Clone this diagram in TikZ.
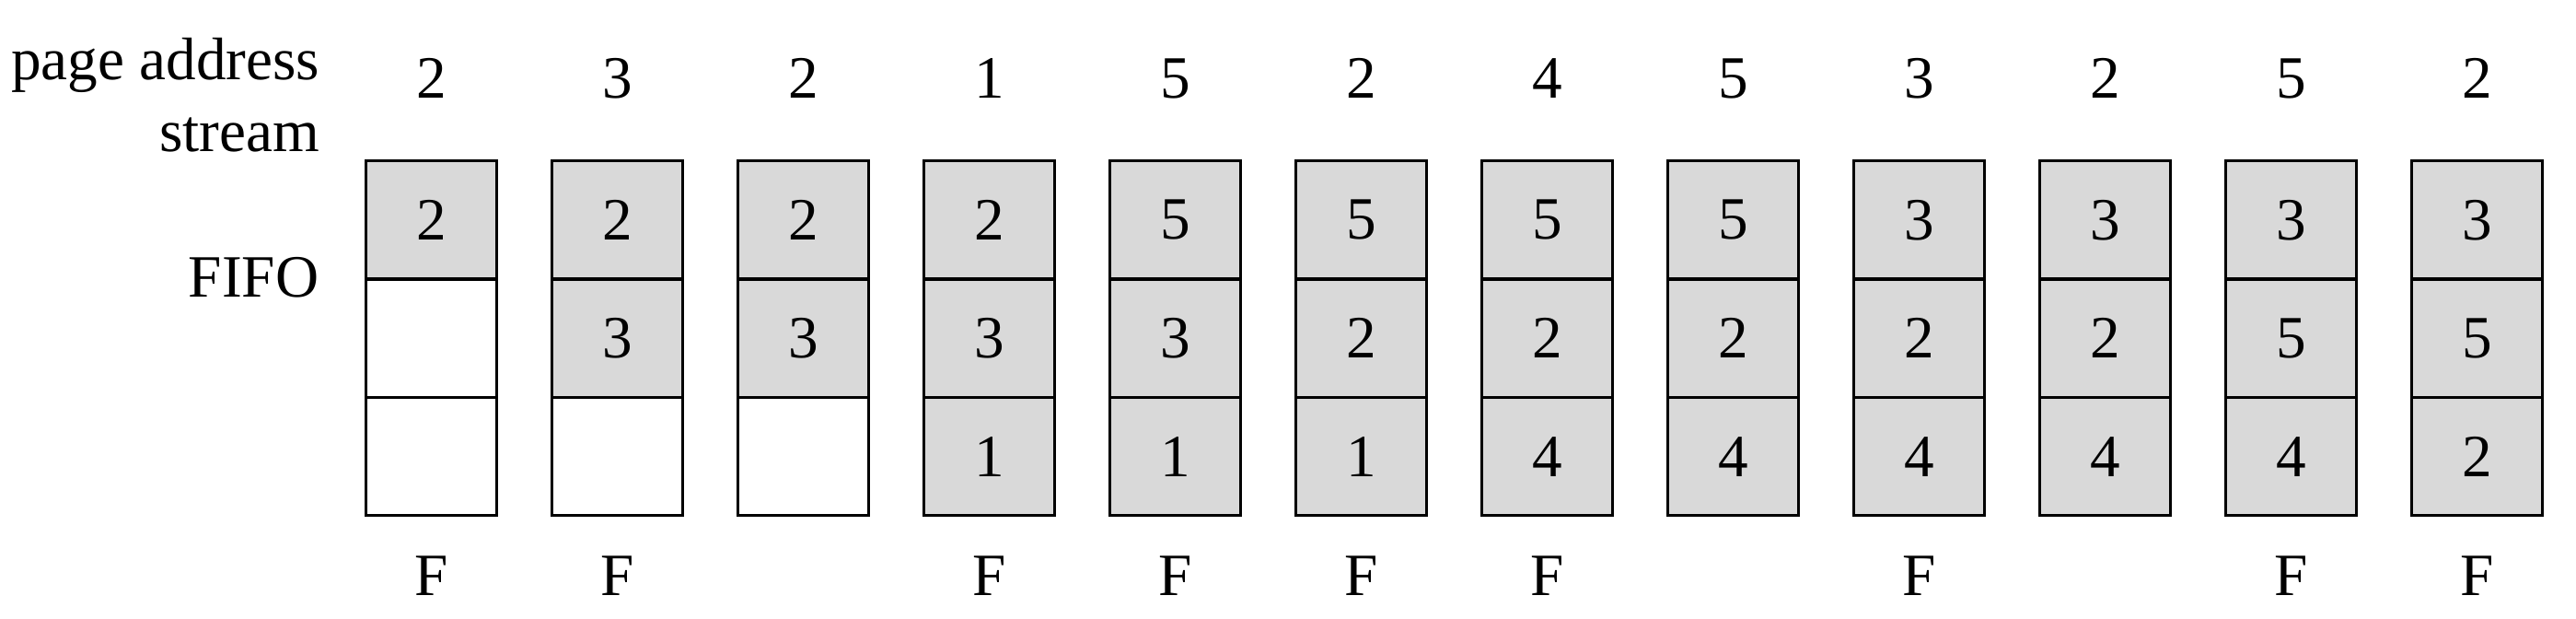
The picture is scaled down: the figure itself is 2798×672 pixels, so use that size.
\documentclass[tikz,border=0pt]{standalone}
\usepackage{fontspec}
\setmainfont{Liberation Serif}
\definecolor{cellgray}{RGB}{217,217,217}
\begin{document}
\begin{tikzpicture}[x=0.25pt,y=-0.25pt,
  every node/.style={font=\fontsize{16.3}{19.5}\selectfont, inner sep=0pt},
  cellbox/.style={draw=black, line width=0.8pt, minimum width=35.5pt, minimum height=32.1pt, outer sep=0pt, anchor=north west},
  fullcell/.style={cellbox, fill=cellgray},
  emptycell/.style={cellbox, fill=white},
  lbl/.style={anchor=base}]
\useasboundingbox (0,0) rectangle (2798,672);
% labels
\node[anchor=base east] (lpa) at (348,87) {page address};
\node[anchor=base east] (lst) at (348,165) {stream};
\node[anchor=base east] (lfifo) at (347,323) {FIFO};
% columns: stream value / cell1 / cell2 / cell3 / fault
\foreach \i/\s/\a/\b/\c/\f in {
  0/2/2/-/-/F, 1/3/2/3/-/F, 2/2/2/3/-/, 3/1/2/3/1/F,
  4/5/5/3/1/F, 5/2/5/2/1/F, 6/4/5/2/4/F, 7/5/5/2/4/,
  8/3/3/2/4/F, 9/2/3/2/4/, 10/5/3/5/4/F, 11/2/3/5/2/F} {
  \pgfmathsetmacro{\xl}{397.6+202*\i}
  \pgfmathsetmacro{\xc}{\xl+71}
  \node[lbl] (s\i) at (\xc,107) {\s};
  \foreach \v [count=\r from 0] in {\a,\b,\c} {
    \pgfmathsetmacro{\yt}{174.6+128.4*\r}
    \if\v -
      \node[emptycell] (c\i-\r) at (\xl,\yt) {};
    \else
      \node[fullcell] (c\i-\r) at (\xl,\yt) {\v};
    \fi
  }
  \node[lbl] (f\i) at (\xc,647) {\f};
}
\end{tikzpicture}
\end{document}
